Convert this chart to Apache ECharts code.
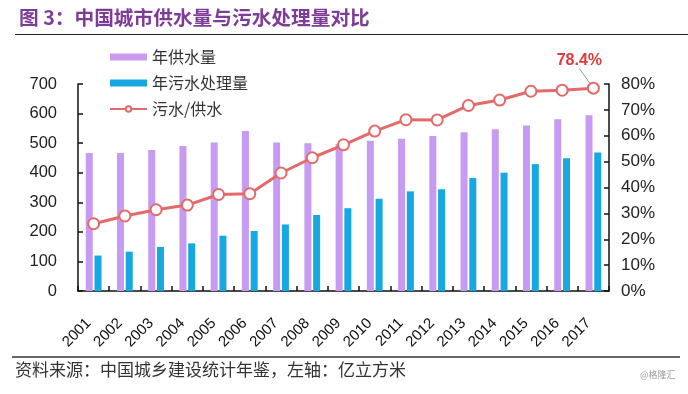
<!DOCTYPE html>
<html>
<head>
<meta charset="utf-8">
<script src="https://cdn.jsdelivr.net/npm/echarts@6/dist/echarts.min.js"></script>
<style>
html,body{margin:0;padding:0;background:#fff;}
#chart{width:688px;height:394px;}
</style>
</head>
<body>
<div id="chart"></div>
<script>
var years = ['2001','2002','2003','2004','2005','2006','2007','2008','2009','2010','2011','2012','2013','2014','2015','2016','2017'];
var waterSupply = [467, 467, 477, 490, 502, 541, 502, 500, 497, 508, 515, 524, 537, 547, 560, 581, 594];
var sewageTreated = [120, 133, 149, 161, 187, 203, 225, 257, 280, 312, 337, 344, 382, 400, 429, 449, 468];
var ratio = [26.0, 29.0, 31.4, 33.2, 37.3, 37.6, 45.6, 51.5, 56.5, 61.8, 66.2, 66.1, 71.7, 73.8, 77.2, 77.6, 78.4];
var leftTicks = [0, 700, 100];
var rightTicks = [0, 80, 10];

var chart = echarts.init(document.getElementById('chart'), null, {renderer:'canvas'});
var cjk = '"Noto Sans CJK SC", sans-serif';
var latin = '"Liberation Sans", Arial, sans-serif';

var ratioData = ratio.map(function(v, i){
  if (i === ratio.length - 1) {
    return {
      value: v,
      label: {
        show: true, position: 'top', formatter: v.toFixed(1) + '%',
        color: '#E0393E', fontWeight: 'bold', fontSize: 16, fontFamily: latin
      },
      labelLine: { show: true, lineStyle: { color: '#999', width: 1 } }
    };
  }
  return v;
});

chart.setOption({
  animation: false,
  backgroundColor: '#fff',
  title: {
    text: '图 3：中国城市供水量与污水处理量对比',
    left: 14, top: 3,
    textStyle: { color: '#7E3C99', fontSize: 19.7, fontWeight: 'bold', fontFamily: cjk }
  },
  graphic: [
    { type: 'line', shape: { x1: 15, y1: 34.5, x2: 688, y2: 34.5 }, style: { stroke: '#222', lineWidth: 1.2 } },
    { type: 'line', shape: { x1: 12, y1: 357, x2: 680, y2: 357 }, style: { stroke: '#666', lineWidth: 2 } },
    { type: 'text', left: 15, top: 361, style: { text: '资料来源：中国城乡建设统计年鉴，左轴：亿立方米', fill: '#333', font: '17px "Noto Sans CJK SC"' } },
    { type: 'text', left: 640, top: 370, style: { text: '@格隆汇', fill: '#999', font: '9px "Noto Sans CJK SC"' } }
  ],
  legend: {
    orient: 'vertical', left: 104, top: 44, itemWidth: 37, itemHeight: 7, itemGap: 10,
    textStyle: { fontSize: 16, color: '#333', fontFamily: cjk },
    data: [
      { name: '年供水量', icon: 'rect' },
      { name: '年污水处理量', icon: 'rect' },
      { name: '污水/供水' }
    ]
  },
  grid: { left: 78, right: 79, top: 84, bottom: 103 },
  xAxis: {
    type: 'category', data: years,
    axisLine: { lineStyle: { color: '#111', width: 1.5 } },
    axisTick: { show: true, inside: true, length: 5, lineStyle: { color: '#111', width: 1.5 } },
    axisLabel: { rotate: 45, fontSize: 15, color: '#111', margin: 25, padding: [0, 7, 0, 0], fontFamily: latin, interval: 0 }
  },
  yAxis: [
    {
      type: 'value', min: leftTicks[0], max: leftTicks[1], interval: leftTicks[2],
      axisLine: { show: true, lineStyle: { color: '#111', width: 1.5 } },
      axisTick: { show: true, inside: true, length: 5, lineStyle: { color: '#111', width: 1.5 } },
      axisLabel: { fontSize: 16.5, color: '#222', margin: 21, fontFamily: latin },
      splitLine: { show: false }
    },
    {
      type: 'value', min: rightTicks[0], max: rightTicks[1], interval: rightTicks[2],
      axisLine: { show: true, lineStyle: { color: '#111', width: 1.5 } },
      axisTick: { show: true, inside: true, length: 5, lineStyle: { color: '#111', width: 1.5 } },
      axisLabel: { fontSize: 17, color: '#222', margin: 12, fontFamily: latin, formatter: '{value}%' },
      splitLine: { show: false }
    }
  ],
  series: [
    { name: '年供水量', type: 'bar', data: waterSupply, barWidth: 7, barGap: '25%', itemStyle: { color: '#C79BF2' } },
    { name: '年污水处理量', type: 'bar', data: sewageTreated, barWidth: 7, barGap: '25%', itemStyle: { color: '#16A8E0' } },
    {
      name: '污水/供水', type: 'line', yAxisIndex: 1, data: ratioData,
      symbol: 'circle', symbolSize: 11,
      lineStyle: { color: '#E46A6A', width: 3 },
      itemStyle: { color: '#fff', borderColor: '#E46A6A', borderWidth: 2 },
      labelLayout: { dx: -14, dy: -8 },
      z: 5
    }
  ]
});
</script>
</body>
</html>
